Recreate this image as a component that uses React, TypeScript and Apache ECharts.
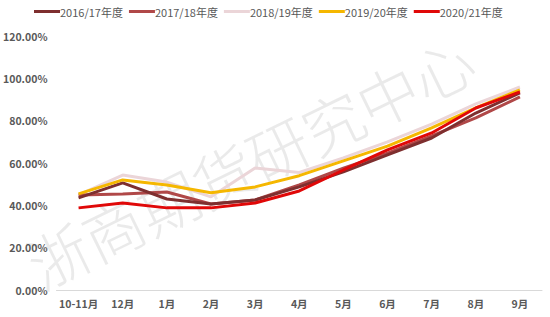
import React, { useEffect, useRef } from "react";
import * as echarts from "echarts";

const categories = ["10-11月", "12月", "1月", "2月", "3月", "4月", "5月", "6月", "7月", "8月", "9月"];
const seriesNames = ["2016/17年度", "2017/18年度", "2018/19年度", "2019/20年度", "2020/21年度"];
const s2016 = [43.5, 50.6, 43.0, 40.6, 42.5, 48.7, 55.8, 63.8, 71.8, 83.6, 93.1];
const s2017 = [44.9, 45.4, 46.3, 40.6, 42.5, 49.6, 57.6, 64.7, 72.8, 81.3, 91.2];
const s2018 = [45.0, 54.3, 51.0, 44.0, 57.6, 55.5, 62.4, 70.0, 78.4, 87.9, 95.9];
const s2019 = [45.4, 52.0, 49.6, 45.9, 48.7, 54.0, 61.0, 68.0, 76.6, 86.0, 94.6];
const s2020 = [38.8, 41.1, 38.8, 38.8, 41.1, 46.8, 56.7, 66.2, 74.2, 86.0, 93.6];
const yTicks = [0, 20, 40, 60, 80, 100, 120];
const colors = ["#7E2F2F", "#B04848", "#EBD5D8", "#F5B700", "#E00808"];
const watermark = "浙商期货研究中心";

export default function App() {
  const ref = useRef<HTMLDivElement>(null);
  useEffect(() => {
    if (!ref.current) return;
    const chart = echarts.init(ref.current, undefined, { renderer: "svg" });
    const data = [s2016, s2017, s2018, s2019, s2020];
    const drawOrder = [2, 1, 0, 3, 4];
    chart.setOption({
      animation: false,
      backgroundColor: "#ffffff",
      legend: {
        top: 1,
        left: 29,
        itemWidth: 26,
        itemHeight: 3,
        itemGap: 6,
        icon: "rect",
        data: seriesNames,
        textStyle: { color: "#595959", fontSize: 11, fontFamily: "Noto Sans CJK SC", padding: [0, 0, 0, -5] },
      },
      graphic: [
        {
          type: "text",
          x: 17,
          y: 240,
          rotation: (26 * Math.PI) / 180,
          z: 0,
          silent: true,
          style: {
            text: watermark,
            fontSize: 61,
            fontFamily: "Noto Sans CJK SC",
            fontWeight: 300,
            fill: "rgba(190,190,190,0.32)",
            verticalAlign: "top",
          },
        },
      ],
      grid: { left: 54, right: 8, top: 36, bottom: 27 },
      xAxis: {
        type: "category",
        data: categories,
        boundaryGap: true,
        axisLine: { lineStyle: { color: "#D9D9D9", width: 1 } },
        axisTick: { show: false },
        axisLabel: { interval: 0, color: "#595959", fontSize: 10.5, fontFamily: "Noto Sans CJK SC", fontWeight: "bold", margin: 8 },
      },
      yAxis: {
        type: "value",
        min: yTicks[0],
        max: yTicks[yTicks.length - 1],
        interval: 20,
        axisLine: { show: false },
        axisTick: { show: false },
        splitLine: { show: false },
        axisLabel: {
          color: "#595959",
          fontSize: 10.5,
          fontFamily: "Noto Sans CJK SC",
          fontWeight: "bold",
          margin: 9,
          formatter: (v: number) => v.toFixed(2) + "%",
        },
      },
      series: drawOrder.map((i) => ({
        name: seriesNames[i],
        type: "line",
        data: data[i],
        symbol: "none",
        smooth: false,
        z: 2 + drawOrder.indexOf(i),
        lineStyle: { color: colors[i], width: 3 },
        itemStyle: { color: colors[i] },
      })),
    });
    return () => chart.dispose();
  }, []);
  return <div ref={ref} style={{ width: 550, height: 317, position: "absolute", left: 0, top: 0 }} />;
}
